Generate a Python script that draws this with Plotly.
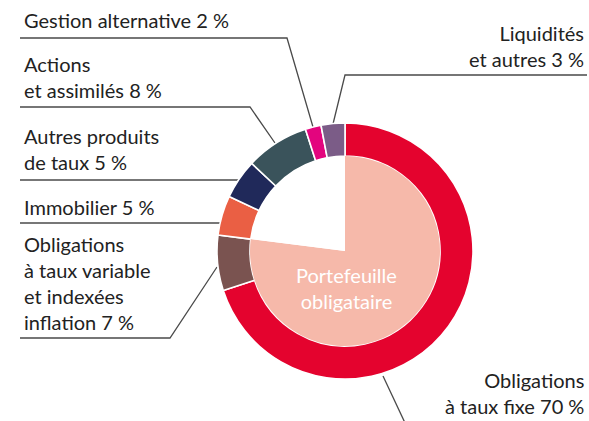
import plotly.graph_objects as go

# ---- data ----
ring_labels = [
    "Obligations<br>à taux fixe 70 %",
    "Obligations<br>à taux variable<br>et indexées<br>inflation 7 %",
    "Immobilier 5 %",
    "Autres produits<br>de taux 5 %",
    "Actions<br>et assimilés 8 %",
    "Gestion alternative 2 %",
    "Liquidités<br>et autres 3 %",
]
ring_values = [70, 7, 5, 5, 8, 2, 3]
inner_labels = ["Portefeuille<br>obligataire", ""]
inner_values = [77, 23]

ring_colors = ["#E4032E", "#7A5350", "#EA5F44", "#20295A", "#3A535B", "#E3057E", "#7B5C87"]
inner_colors = ["#F6B9AA", "#FFFFFF"]

W, H = 589, 421
CX, CY = 345, 251
R_OUT, R_IN = 128, 95
FONT = "Lato, 'Source Sans Pro', 'Noto Sans', sans-serif"
TXT = "#222222"
LINE = "#4a4a4a"


def px(x):
    return x / W


def py(y):
    return (H - y) / H


fig = go.Figure()
fig.add_trace(go.Pie(
    values=ring_values, labels=ring_labels,
    marker=dict(colors=ring_colors, line=dict(color="white", width=1.6)),
    hole=R_IN / R_OUT, sort=False, direction="clockwise", rotation=0,
    textinfo="none", hoverinfo="label+value", showlegend=False,
    domain=dict(x=[px(CX - R_OUT), px(CX + R_OUT)], y=[py(CY + R_OUT), py(CY - R_OUT)]),
))
fig.add_trace(go.Pie(
    values=inner_values, labels=inner_labels,
    marker=dict(colors=inner_colors, line=dict(width=0)),
    sort=False, direction="clockwise", rotation=0,
    textinfo="none", hoverinfo="skip", showlegend=False,
    domain=dict(x=[px(CX - R_IN), px(CX + R_IN)], y=[py(CY + R_IN), py(CY - R_IN)]),
))

# label placement (pixel positions), matched to ring_labels order
label_pos = [
    (586, 392.5, "right"),
    (22, 282.5, "left"),
    (22, 207, "left"),
    (22, 149, "left"),
    (22, 76.5, "left"),
    (22, 20, "left"),
    (586, 45.5, "right"),
]
annotations = []
for text, (x, y, anc) in zip(ring_labels, label_pos):
    annotations.append(dict(
        x=px(x), y=py(y), xref="paper", yref="paper", text=text, showarrow=False,
        xanchor=anc, yanchor="middle", align=anc,
        font=dict(family=FONT, size=20, color=TXT),
    ))
annotations.append(dict(
    x=px(346), y=py(287.5), xref="paper", yref="paper", text=inner_labels[0],
    showarrow=False, xanchor="center", yanchor="middle", align="center",
    font=dict(family=FONT, size=20, color="white"),
))

# leader lines (pixel paths)
leaders = [
    [(383, 376), (406, 425)],
    [(20, 338), (170, 338), (217, 267)],
    [(20, 223), (220, 223)],
    [(20, 180), (238, 180)],
    [(20, 107), (250, 107), (275, 143)],
    [(20, 38), (287, 38), (313, 127)],
    [(587, 75), (345, 75), (333, 124)],
]
shapes = []
for path in leaders:
    d = "M " + " L ".join(f"{px(x)},{py(y)}" for x, y in path)
    shapes.append(dict(type="path", path=d, xref="paper", yref="paper",
                       line=dict(color=LINE, width=1.3), layer="below"))

fig.update_layout(
    width=W, height=H, margin=dict(l=0, r=0, t=0, b=0),
    paper_bgcolor="white", plot_bgcolor="white",
    annotations=annotations, shapes=shapes,
)
fig.write_html(
    "out.html",
    config={"displayModeBar": False},
    post_script="document.body.style.margin='0';document.body.style.overflow='hidden';",
)
